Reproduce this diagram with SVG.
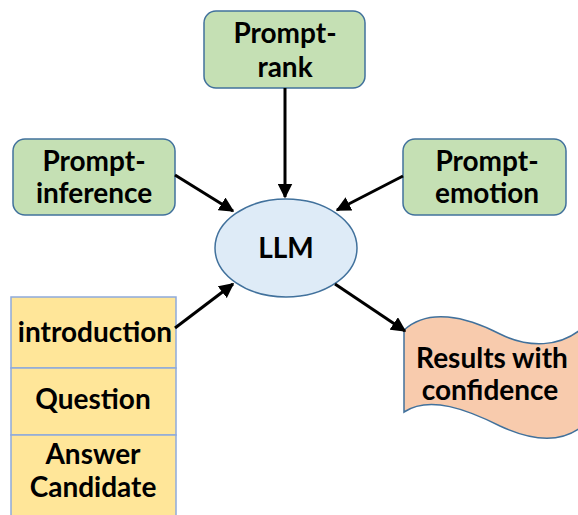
<svg xmlns="http://www.w3.org/2000/svg" width="578" height="515" viewBox="0 0 578 515">
<style>
.box{fill:#C5E0B4;stroke:#41719C;stroke-width:1.5}
.t{font-family:Lato,"Liberation Sans",sans-serif;font-weight:bold;font-size:28px;fill:#000;text-anchor:middle}
.c{stroke:#000;stroke-width:3;fill:none;marker-end:url(#ah)}
</style>
<defs>
<marker id="ah" viewBox="0 0 10 10" refX="9" refY="5" markerWidth="5" markerHeight="5" orient="auto" markerUnits="strokeWidth">
<path d="M0,0 L10,5 L0,10 z" fill="#000"/>
</marker>
</defs>
<g id="prompt-rank"><rect class="box" x="204" y="11" width="161" height="77" rx="12"/><text class="t" x="285" y="43">Prompt-</text><text class="t" x="285" y="77">rank</text></g>
<g id="prompt-inference"><rect class="box" x="13" y="139" width="162" height="76" rx="12"/><text class="t" x="94" y="171">Prompt-</text><text class="t" x="94" y="203">inference</text></g>
<g id="prompt-emotion"><rect class="box" x="403" y="139" width="163" height="76" rx="12"/><text class="t" x="487" y="171">Prompt-</text><text class="t" x="487" y="203">emotion</text></g>
<g id="llm"><ellipse cx="286" cy="248" rx="71" ry="49" fill="#DEEBF7" stroke="#41719C" stroke-width="1.5"/><text class="t" x="286" y="258">LLM</text></g>
<g id="inputs">
<rect x="11" y="297" width="165" height="71" fill="#FFE699" stroke="#8FAADC" stroke-width="1.5"/>
<rect x="11" y="368" width="165" height="67" fill="#FFE699" stroke="#8FAADC" stroke-width="1.5"/>
<rect x="11" y="435" width="165" height="85" fill="#FFE699" stroke="#8FAADC" stroke-width="1.5"/>
<text class="t" x="95" y="342">introduction</text>
<text class="t" x="93" y="409">Question</text>
<text class="t" x="93" y="464">Answer</text>
<text class="t" x="93" y="497">Candidate</text>
</g>
<g id="results"><path d="M404,330 C428,308 465,316 500,334 C530,349 560,346 580,330 L580,428 C558,444 530,440 500,426 C468,410 430,395 404,412 Z" fill="#F8CBAD" stroke="#41719C" stroke-width="1.5"/><text class="t" x="492" y="368">Results with</text><text class="t" x="490" y="400">confidence</text></g>
<g id="connectors">
<line class="c" x1="285" y1="88" x2="285" y2="197"/>
<line class="c" x1="175" y1="175" x2="233" y2="211"/>
<line class="c" x1="403" y1="176" x2="337" y2="210"/>
<line class="c" x1="175" y1="328" x2="233" y2="284"/>
<line class="c" x1="335" y1="284" x2="405" y2="331"/>
</g>
</svg>
